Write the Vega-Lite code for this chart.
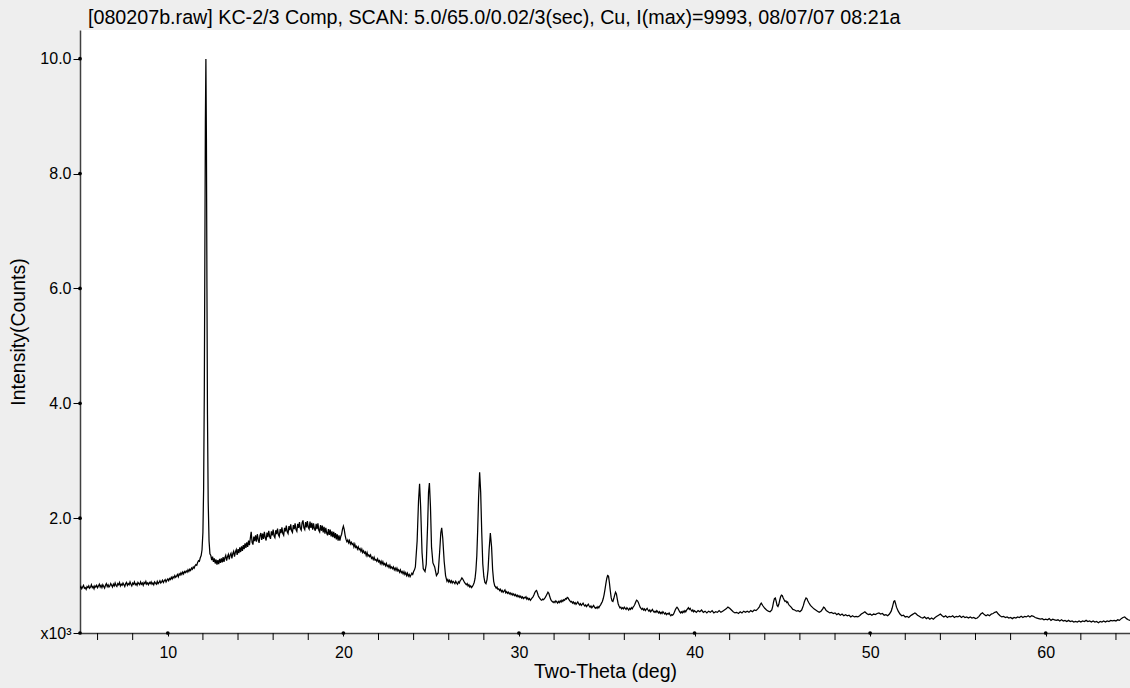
{
  "$schema": "https://vega.github.io/schema/vega-lite/v6.json",
  "width": 1050,
  "height": 603,
  "autosize": "none",
  "padding": {"left": 80, "top": 30, "right": 0, "bottom": 55},
  "background": "#eeeeee",
  "config": {
    "font": "Liberation Sans",
    "view": {"fill": "white", "stroke": null},
    "axis": {"domainColor": "#404040", "domainWidth": 1.5, "tickColor": "#000000", "tickWidth": 1, "labelColor": "#000000", "titleColor": "#000000", "labelFont": "Liberation Sans", "titleFont": "Liberation Sans", "labelFontSize": 16, "titleFontSize": 19.5, "titleFontWeight": "normal", "grid": false}
  },
  "title": {
    "text": "[080207b.raw] KC-2/3 Comp, SCAN: 5.0/65.0/0.02/3(sec), Cu, I(max)=9993, 08/07/07 08:21a",
    "anchor": "start", "frame": "group", "dx": 8, "offset": 2,
    "font": "Liberation Sans", "fontSize": 19.7, "fontWeight": "normal", "color": "#000000"
  },
  "datasets": {
    "scan": [
      {"t":5.00,"i":0.78},{"t":5.05,"i":0.81},{"t":5.10,"i":0.77},{"t":5.15,"i":0.80},{"t":5.20,"i":0.83},{"t":5.25,"i":0.78},{"t":5.30,"i":0.79},{"t":5.35,"i":0.76},{"t":5.40,"i":0.81},{"t":5.45,"i":0.79},
      {"t":5.50,"i":0.82},{"t":5.55,"i":0.78},{"t":5.60,"i":0.80},{"t":5.65,"i":0.84},{"t":5.70,"i":0.79},{"t":5.75,"i":0.81},{"t":5.80,"i":0.77},{"t":5.85,"i":0.82},{"t":5.90,"i":0.80},{"t":5.95,"i":0.83},
      {"t":6.00,"i":0.79},{"t":6.05,"i":0.82},{"t":6.10,"i":0.85},{"t":6.15,"i":0.80},{"t":6.20,"i":0.83},{"t":6.25,"i":0.79},{"t":6.30,"i":0.84},{"t":6.35,"i":0.81},{"t":6.40,"i":0.78},{"t":6.45,"i":0.83},
      {"t":6.50,"i":0.86},{"t":6.55,"i":0.81},{"t":6.60,"i":0.84},{"t":6.65,"i":0.80},{"t":6.70,"i":0.82},{"t":6.75,"i":0.86},{"t":6.80,"i":0.83},{"t":6.85,"i":0.80},{"t":6.90,"i":0.85},{"t":6.95,"i":0.82},
      {"t":7.00,"i":0.87},{"t":7.05,"i":0.83},{"t":7.10,"i":0.81},{"t":7.15,"i":0.86},{"t":7.20,"i":0.84},{"t":7.25,"i":0.88},{"t":7.30,"i":0.82},{"t":7.35,"i":0.85},{"t":7.40,"i":0.83},{"t":7.45,"i":0.87},
      {"t":7.50,"i":0.84},{"t":7.55,"i":0.81},{"t":7.60,"i":0.86},{"t":7.65,"i":0.88},{"t":7.70,"i":0.83},{"t":7.75,"i":0.86},{"t":7.80,"i":0.84},{"t":7.85,"i":0.89},{"t":7.90,"i":0.85},{"t":7.95,"i":0.82},
      {"t":8.00,"i":0.87},{"t":8.05,"i":0.85},{"t":8.10,"i":0.89},{"t":8.15,"i":0.84},{"t":8.20,"i":0.86},{"t":8.25,"i":0.83},{"t":8.30,"i":0.88},{"t":8.35,"i":0.86},{"t":8.40,"i":0.84},{"t":8.45,"i":0.89},
      {"t":8.50,"i":0.85},{"t":8.55,"i":0.87},{"t":8.60,"i":0.83},{"t":8.65,"i":0.88},{"t":8.70,"i":0.86},{"t":8.75,"i":0.90},{"t":8.80,"i":0.85},{"t":8.85,"i":0.87},{"t":8.90,"i":0.84},{"t":8.95,"i":0.88},
      {"t":9.00,"i":0.86},{"t":9.05,"i":0.89},{"t":9.10,"i":0.85},{"t":9.15,"i":0.87},{"t":9.20,"i":0.84},{"t":9.25,"i":0.89},{"t":9.30,"i":0.87},{"t":9.35,"i":0.85},{"t":9.40,"i":0.90},{"t":9.45,"i":0.86},
      {"t":9.50,"i":0.88},{"t":9.55,"i":0.91},{"t":9.60,"i":0.87},{"t":9.65,"i":0.89},{"t":9.70,"i":0.92},{"t":9.75,"i":0.88},{"t":9.80,"i":0.91},{"t":9.85,"i":0.93},{"t":9.90,"i":0.89},{"t":9.95,"i":0.92},
      {"t":10.00,"i":0.94},{"t":10.05,"i":0.91},{"t":10.10,"i":0.95},{"t":10.15,"i":0.93},{"t":10.20,"i":0.97},{"t":10.25,"i":0.94},{"t":10.30,"i":0.98},{"t":10.35,"i":0.96},{"t":10.40,"i":1.00},{"t":10.45,"i":0.97},
      {"t":10.50,"i":0.99},{"t":10.55,"i":1.02},{"t":10.60,"i":0.98},{"t":10.65,"i":1.03},{"t":10.70,"i":1.01},{"t":10.75,"i":1.05},{"t":10.80,"i":1.02},{"t":10.85,"i":1.06},{"t":10.90,"i":1.03},{"t":10.95,"i":1.07},
      {"t":11.00,"i":1.05},{"t":11.05,"i":1.08},{"t":11.10,"i":1.06},{"t":11.15,"i":1.10},{"t":11.20,"i":1.07},{"t":11.25,"i":1.11},{"t":11.30,"i":1.09},{"t":11.35,"i":1.13},{"t":11.40,"i":1.11},{"t":11.45,"i":1.15},
      {"t":11.50,"i":1.13},{"t":11.55,"i":1.17},{"t":11.60,"i":1.19},{"t":11.65,"i":1.18},{"t":11.70,"i":1.23},{"t":11.75,"i":1.26},{"t":11.80,"i":1.25},{"t":11.85,"i":1.31},{"t":11.90,"i":1.35},{"t":11.95,"i":1.45},
      {"t":12.00,"i":1.75},{"t":12.04,"i":2.5},{"t":12.08,"i":4.2},{"t":12.11,"i":6.5},{"t":12.14,"i":8.9},{"t":12.17,"i":9.993},{"t":12.20,"i":8.6},{"t":12.23,"i":6.0},{"t":12.26,"i":3.8},{"t":12.30,"i":2.3},{"t":12.35,"i":1.6},{"t":12.40,"i":1.38},
      {"t":12.45,"i":1.35},{"t":12.50,"i":1.27},{"t":12.55,"i":1.33},{"t":12.60,"i":1.24},{"t":12.65,"i":1.30},{"t":12.70,"i":1.21},{"t":12.75,"i":1.28},{"t":12.80,"i":1.19},{"t":12.85,"i":1.27},{"t":12.90,"i":1.20},
      {"t":12.95,"i":1.29},{"t":13.00,"i":1.22},{"t":13.05,"i":1.30},{"t":13.10,"i":1.23},{"t":13.15,"i":1.32},{"t":13.20,"i":1.24},{"t":13.25,"i":1.31},{"t":13.30,"i":1.35},{"t":13.35,"i":1.26},{"t":13.40,"i":1.33},
      {"t":13.45,"i":1.37},{"t":13.50,"i":1.28},{"t":13.55,"i":1.36},{"t":13.60,"i":1.39},{"t":13.65,"i":1.30},{"t":13.70,"i":1.38},{"t":13.75,"i":1.42},{"t":13.80,"i":1.33},{"t":13.85,"i":1.41},{"t":13.90,"i":1.45},
      {"t":13.95,"i":1.36},{"t":14.00,"i":1.46},{"t":14.05,"i":1.39},{"t":14.10,"i":1.49},{"t":14.15,"i":1.41},{"t":14.20,"i":1.51},{"t":14.25,"i":1.43},{"t":14.30,"i":1.53},{"t":14.35,"i":1.46},{"t":14.40,"i":1.56},
      {"t":14.45,"i":1.48},{"t":14.50,"i":1.58},{"t":14.55,"i":1.50},{"t":14.60,"i":1.61},{"t":14.65,"i":1.53},{"t":14.70,"i":1.65},{"t":14.75,"i":1.76},{"t":14.80,"i":1.58},{"t":14.85,"i":1.54},{"t":14.90,"i":1.68},
      {"t":14.95,"i":1.60},{"t":15.00,"i":1.70},{"t":15.05,"i":1.59},{"t":15.10,"i":1.72},{"t":15.15,"i":1.63},{"t":15.20,"i":1.57},{"t":15.25,"i":1.70},{"t":15.30,"i":1.74},{"t":15.35,"i":1.62},{"t":15.40,"i":1.73},
      {"t":15.45,"i":1.64},{"t":15.50,"i":1.76},{"t":15.55,"i":1.66},{"t":15.60,"i":1.61},{"t":15.65,"i":1.75},{"t":15.70,"i":1.67},{"t":15.75,"i":1.78},{"t":15.80,"i":1.68},{"t":15.85,"i":1.64},{"t":15.90,"i":1.77},
      {"t":15.95,"i":1.70},{"t":16.00,"i":1.80},{"t":16.05,"i":1.69},{"t":16.10,"i":1.66},{"t":16.15,"i":1.79},{"t":16.20,"i":1.72},{"t":16.25,"i":1.82},{"t":16.30,"i":1.71},{"t":16.35,"i":1.68},{"t":16.40,"i":1.81},
      {"t":16.45,"i":1.74},{"t":16.50,"i":1.84},{"t":16.55,"i":1.73},{"t":16.60,"i":1.70},{"t":16.65,"i":1.83},{"t":16.70,"i":1.77},{"t":16.75,"i":1.87},{"t":16.80,"i":1.76},{"t":16.85,"i":1.73},{"t":16.90,"i":1.86},
      {"t":16.95,"i":1.79},{"t":17.00,"i":1.89},{"t":17.05,"i":1.78},{"t":17.10,"i":1.75},{"t":17.15,"i":1.88},{"t":17.20,"i":1.81},{"t":17.25,"i":1.91},{"t":17.30,"i":1.80},{"t":17.35,"i":1.77},{"t":17.40,"i":1.90},
      {"t":17.45,"i":1.83},{"t":17.50,"i":1.93},{"t":17.55,"i":1.82},{"t":17.60,"i":1.79},{"t":17.65,"i":1.92},{"t":17.70,"i":1.96},{"t":17.75,"i":1.83},{"t":17.80,"i":1.80},{"t":17.85,"i":1.93},{"t":17.90,"i":1.84},
      {"t":17.95,"i":1.95},{"t":18.00,"i":1.84},{"t":18.05,"i":1.81},{"t":18.10,"i":1.94},{"t":18.15,"i":1.83},{"t":18.20,"i":1.92},{"t":18.25,"i":1.80},{"t":18.30,"i":1.91},{"t":18.35,"i":1.82},{"t":18.40,"i":1.78},
      {"t":18.45,"i":1.90},{"t":18.50,"i":1.81},{"t":18.55,"i":1.91},{"t":18.60,"i":1.79},{"t":18.65,"i":1.76},{"t":18.70,"i":1.88},{"t":18.75,"i":1.78},{"t":18.80,"i":1.87},{"t":18.85,"i":1.75},{"t":18.90,"i":1.85},
      {"t":18.95,"i":1.73},{"t":19.00,"i":1.83},{"t":19.05,"i":1.74},{"t":19.10,"i":1.70},{"t":19.15,"i":1.81},{"t":19.20,"i":1.71},{"t":19.25,"i":1.80},{"t":19.30,"i":1.68},{"t":19.35,"i":1.77},{"t":19.40,"i":1.67},
      {"t":19.45,"i":1.76},{"t":19.50,"i":1.65},{"t":19.55,"i":1.74},{"t":19.60,"i":1.63},{"t":19.65,"i":1.72},{"t":19.70,"i":1.61},{"t":19.75,"i":1.70},{"t":19.80,"i":1.61},{"t":19.85,"i":1.68},{"t":19.90,"i":1.72},
      {"t":19.95,"i":1.81},{"t":20.00,"i":1.86},{"t":20.05,"i":1.80},{"t":20.10,"i":1.70},{"t":20.15,"i":1.63},{"t":20.20,"i":1.59},{"t":20.25,"i":1.62},{"t":20.30,"i":1.57},{"t":20.35,"i":1.61},{"t":20.40,"i":1.55},
      {"t":20.45,"i":1.58},{"t":20.50,"i":1.54},{"t":20.55,"i":1.56},{"t":20.60,"i":1.50},{"t":20.65,"i":1.55},{"t":20.70,"i":1.49},{"t":20.75,"i":1.51},{"t":20.80,"i":1.46},{"t":20.85,"i":1.50},{"t":20.90,"i":1.45},
      {"t":20.95,"i":1.47},{"t":21.00,"i":1.42},{"t":21.05,"i":1.46},{"t":21.10,"i":1.40},{"t":21.15,"i":1.43},{"t":21.20,"i":1.39},{"t":21.25,"i":1.41},{"t":21.30,"i":1.35},{"t":21.35,"i":1.40},{"t":21.40,"i":1.34},
      {"t":21.45,"i":1.36},{"t":21.50,"i":1.33},{"t":21.55,"i":1.36},{"t":21.60,"i":1.30},{"t":21.65,"i":1.32},{"t":21.70,"i":1.28},{"t":21.75,"i":1.32},{"t":21.80,"i":1.27},{"t":21.85,"i":1.28},{"t":21.90,"i":1.25},
      {"t":21.95,"i":1.29},{"t":22.00,"i":1.24},{"t":22.05,"i":1.26},{"t":22.10,"i":1.21},{"t":22.15,"i":1.25},{"t":22.20,"i":1.20},{"t":22.25,"i":1.24},{"t":22.30,"i":1.19},{"t":22.35,"i":1.21},{"t":22.40,"i":1.17},
      {"t":22.45,"i":1.21},{"t":22.50,"i":1.16},{"t":22.55,"i":1.18},{"t":22.60,"i":1.14},{"t":22.65,"i":1.18},{"t":22.70,"i":1.13},{"t":22.75,"i":1.15},{"t":22.80,"i":1.12},{"t":22.85,"i":1.15},{"t":22.90,"i":1.10},
      {"t":22.95,"i":1.13},{"t":23.00,"i":1.09},{"t":23.05,"i":1.13},{"t":23.10,"i":1.08},{"t":23.15,"i":1.10},{"t":23.20,"i":1.06},{"t":23.25,"i":1.10},{"t":23.30,"i":1.05},{"t":23.35,"i":1.07},{"t":23.40,"i":1.03},
      {"t":23.45,"i":1.07},{"t":23.50,"i":1.02},{"t":23.55,"i":1.05},{"t":23.60,"i":1.00},{"t":23.65,"i":1.04},{"t":23.70,"i":0.99},{"t":23.75,"i":1.02},{"t":23.80,"i":0.98},{"t":23.85,"i":1.01},{"t":23.90,"i":1.04},
      {"t":23.95,"i":1.02},{"t":24.00,"i":1.07},{"t":24.05,"i":1.10},{"t":24.10,"i":1.15},
      {"t":24.2,"i":1.6},{"t":24.28,"i":2.3},{"t":24.34,"i":2.60},{"t":24.4,"i":2.2},{"t":24.48,"i":1.4},{"t":24.55,"i":1.12},{"t":24.65,"i":1.07},{"t":24.72,"i":1.2},{"t":24.8,"i":1.9},{"t":24.85,"i":2.45},{"t":24.9,"i":2.61},{"t":24.96,"i":2.2},{"t":25.02,"i":1.5},{"t":25.1,"i":1.22},{"t":25.2,"i":1.15},{"t":25.3,"i":1.0},{"t":25.4,"i":1.05},{"t":25.48,"i":1.4},{"t":25.55,"i":1.75},{"t":25.6,"i":1.83},{"t":25.66,"i":1.65},{"t":25.74,"i":1.25},{"t":25.82,"i":1.0},
      {"t":25.90,"i":0.90},{"t":25.95,"i":0.93},{"t":26.00,"i":0.89},{"t":26.05,"i":0.92},{"t":26.10,"i":0.88},{"t":26.15,"i":0.91},{"t":26.20,"i":0.87},{"t":26.25,"i":0.90},{"t":26.30,"i":0.88},{"t":26.35,"i":0.86},
      {"t":26.40,"i":0.90},{"t":26.45,"i":0.87},{"t":26.50,"i":0.85},{"t":26.55,"i":0.89},{"t":26.60,"i":0.87},{"t":26.65,"i":0.91},{"t":26.70,"i":0.93},{"t":26.75,"i":0.96},{"t":26.80,"i":0.94},{"t":26.85,"i":0.91},
      {"t":26.90,"i":0.88},{"t":26.95,"i":0.86},{"t":27.00,"i":0.84},{"t":27.05,"i":0.86},{"t":27.10,"i":0.82},{"t":27.15,"i":0.84},{"t":27.20,"i":0.80},{"t":27.25,"i":0.82},{"t":27.30,"i":0.79},{"t":27.35,"i":0.81},
      {"t":27.40,"i":0.84},{"t":27.45,"i":0.88},{"t":27.50,"i":0.95},{"t":27.55,"i":1.1},{"t":27.60,"i":1.35},{"t":27.65,"i":1.8},{"t":27.70,"i":2.35},{"t":27.76,"i":2.80},{"t":27.82,"i":2.45},{"t":27.88,"i":1.75},
      {"t":27.94,"i":1.2},{"t":28.00,"i":0.98},{"t":28.06,"i":0.88},{"t":28.12,"i":0.86},{"t":28.18,"i":0.93},{"t":28.24,"i":1.1},{"t":28.30,"i":1.45},{"t":28.37,"i":1.74},{"t":28.44,"i":1.5},{"t":28.50,"i":1.1},{"t":28.56,"i":0.9},{"t":28.62,"i":0.82},
      {"t":28.65,"i":0.81},{"t":28.70,"i":0.78},{"t":28.75,"i":0.80},{"t":28.80,"i":0.76},{"t":28.85,"i":0.77},{"t":28.90,"i":0.74},{"t":28.95,"i":0.76},{"t":29.00,"i":0.72},{"t":29.05,"i":0.74},{"t":29.10,"i":0.71},
      {"t":29.15,"i":0.73},{"t":29.20,"i":0.75},{"t":29.25,"i":0.70},{"t":29.30,"i":0.72},{"t":29.35,"i":0.69},{"t":29.40,"i":0.71},{"t":29.45,"i":0.68},{"t":29.50,"i":0.70},{"t":29.55,"i":0.67},{"t":29.60,"i":0.69},
      {"t":29.65,"i":0.66},{"t":29.70,"i":0.68},{"t":29.75,"i":0.65},{"t":29.80,"i":0.67},{"t":29.85,"i":0.64},{"t":29.90,"i":0.66},{"t":29.95,"i":0.63},{"t":30.00,"i":0.65},{"t":30.05,"i":0.62},{"t":30.10,"i":0.64},
      {"t":30.15,"i":0.61},{"t":30.20,"i":0.63},{"t":30.25,"i":0.60},{"t":30.30,"i":0.62},{"t":30.35,"i":0.61},{"t":30.40,"i":0.63},{"t":30.45,"i":0.59},{"t":30.50,"i":0.61},{"t":30.55,"i":0.58},{"t":30.60,"i":0.60},
      {"t":30.65,"i":0.57},{"t":30.70,"i":0.59},{"t":30.75,"i":0.61},{"t":30.80,"i":0.63},{"t":30.85,"i":0.66},{"t":30.90,"i":0.70},{"t":30.95,"i":0.73},{"t":31.00,"i":0.74},{"t":31.05,"i":0.70},{"t":31.10,"i":0.65},
      {"t":31.15,"i":0.62},{"t":31.20,"i":0.60},{"t":31.25,"i":0.58},{"t":31.30,"i":0.57},{"t":31.35,"i":0.59},{"t":31.40,"i":0.58},{"t":31.45,"i":0.60},{"t":31.50,"i":0.62},{"t":31.55,"i":0.65},{"t":31.60,"i":0.68},
      {"t":31.65,"i":0.71},{"t":31.70,"i":0.69},{"t":31.75,"i":0.64},{"t":31.80,"i":0.59},{"t":31.85,"i":0.56},{"t":31.90,"i":0.55},{"t":31.95,"i":0.53},{"t":32.00,"i":0.55},{"t":32.05,"i":0.53},{"t":32.10,"i":0.56},
      {"t":32.15,"i":0.54},{"t":32.20,"i":0.52},{"t":32.25,"i":0.55},{"t":32.30,"i":0.53},{"t":32.35,"i":0.56},{"t":32.40,"i":0.54},{"t":32.45,"i":0.57},{"t":32.50,"i":0.55},{"t":32.55,"i":0.58},{"t":32.60,"i":0.57},
      {"t":32.65,"i":0.60},{"t":32.70,"i":0.59},{"t":32.75,"i":0.62},{"t":32.80,"i":0.61},{"t":32.85,"i":0.58},{"t":32.90,"i":0.56},{"t":32.95,"i":0.54},{"t":33.00,"i":0.55},{"t":33.05,"i":0.52},{"t":33.10,"i":0.54},
      {"t":33.15,"i":0.51},{"t":33.20,"i":0.53},{"t":33.25,"i":0.50},{"t":33.30,"i":0.52},{"t":33.35,"i":0.54},{"t":33.40,"i":0.51},{"t":33.45,"i":0.49},{"t":33.50,"i":0.51},{"t":33.55,"i":0.48},{"t":33.60,"i":0.50},
      {"t":33.65,"i":0.52},{"t":33.70,"i":0.49},{"t":33.75,"i":0.47},{"t":33.80,"i":0.49},{"t":33.85,"i":0.46},{"t":33.90,"i":0.48},{"t":33.95,"i":0.50},{"t":34.00,"i":0.47},{"t":34.05,"i":0.45},{"t":34.10,"i":0.47},
      {"t":34.15,"i":0.44},{"t":34.20,"i":0.46},{"t":34.25,"i":0.48},{"t":34.30,"i":0.45},{"t":34.35,"i":0.43},{"t":34.40,"i":0.45},{"t":34.45,"i":0.43},{"t":34.50,"i":0.46},{"t":34.55,"i":0.44},{"t":34.60,"i":0.47},
      {"t":34.65,"i":0.49},{"t":34.70,"i":0.52},{"t":34.75,"i":0.55},{"t":34.80,"i":0.60},{"t":34.85,"i":0.67},{"t":34.90,"i":0.76},{"t":34.95,"i":0.86},{"t":35.00,"i":0.95},{"t":35.05,"i":1.00},{"t":35.10,"i":0.99},
      {"t":35.15,"i":0.88},{"t":35.20,"i":0.74},{"t":35.25,"i":0.62},{"t":35.30,"i":0.56},{"t":35.35,"i":0.55},{"t":35.40,"i":0.60},{"t":35.45,"i":0.66},{"t":35.50,"i":0.71},{"t":35.55,"i":0.68},{"t":35.60,"i":0.59},
      {"t":35.65,"i":0.51},{"t":35.70,"i":0.47},{"t":35.75,"i":0.44},{"t":35.80,"i":0.45},{"t":35.85,"i":0.42},{"t":35.90,"i":0.44},{"t":35.95,"i":0.42},{"t":36.00,"i":0.45},{"t":36.05,"i":0.43},{"t":36.10,"i":0.41},
      {"t":36.15,"i":0.44},{"t":36.20,"i":0.42},{"t":36.25,"i":0.40},{"t":36.30,"i":0.43},{"t":36.35,"i":0.41},{"t":36.40,"i":0.44},{"t":36.45,"i":0.42},{"t":36.50,"i":0.45},{"t":36.55,"i":0.47},{"t":36.60,"i":0.50},
      {"t":36.65,"i":0.54},{"t":36.70,"i":0.57},{"t":36.75,"i":0.56},{"t":36.80,"i":0.53},{"t":36.85,"i":0.49},{"t":36.90,"i":0.45},{"t":36.95,"i":0.43},{"t":37.00,"i":0.41},{"t":37.05,"i":0.43},{"t":37.10,"i":0.40},
      {"t":37.15,"i":0.42},{"t":37.20,"i":0.39},{"t":37.25,"i":0.41},{"t":37.30,"i":0.43},{"t":37.35,"i":0.40},{"t":37.40,"i":0.38},{"t":37.45,"i":0.40},{"t":37.50,"i":0.37},{"t":37.55,"i":0.39},{"t":37.60,"i":0.41},
      {"t":37.65,"i":0.38},{"t":37.70,"i":0.36},{"t":37.75,"i":0.38},{"t":37.80,"i":0.36},{"t":37.85,"i":0.39},{"t":37.90,"i":0.37},{"t":37.95,"i":0.35},{"t":38.00,"i":0.37},{"t":38.05,"i":0.34},{"t":38.10,"i":0.36},
      {"t":38.15,"i":0.34},{"t":38.20,"i":0.37},{"t":38.25,"i":0.35},{"t":38.30,"i":0.33},{"t":38.35,"i":0.35},{"t":38.40,"i":0.32},{"t":38.45,"i":0.34},{"t":38.50,"i":0.33},{"t":38.55,"i":0.35},{"t":38.60,"i":0.32},
      {"t":38.65,"i":0.30},{"t":38.70,"i":0.32},{"t":38.75,"i":0.31},{"t":38.80,"i":0.33},{"t":38.85,"i":0.36},{"t":38.90,"i":0.40},{"t":38.95,"i":0.43},{"t":39.00,"i":0.45},{"t":39.05,"i":0.43},{"t":39.10,"i":0.40},
      {"t":39.15,"i":0.37},{"t":39.20,"i":0.35},{"t":39.25,"i":0.37},{"t":39.30,"i":0.35},{"t":39.35,"i":0.38},{"t":39.40,"i":0.36},{"t":39.45,"i":0.39},{"t":39.50,"i":0.37},{"t":39.55,"i":0.40},{"t":39.60,"i":0.42},
      {"t":39.65,"i":0.44},{"t":39.70,"i":0.41},{"t":39.75,"i":0.43},{"t":39.80,"i":0.40},{"t":39.85,"i":0.38},{"t":39.90,"i":0.40},{"t":39.95,"i":0.37},{"t":40.00,"i":0.39},
      {"t":40.1,"i":0.36},{"t":40.2,"i":0.39},{"t":40.3,"i":0.37},{"t":40.4,"i":0.40},{"t":40.5,"i":0.36},{"t":40.6,"i":0.38},{"t":40.7,"i":0.35},{"t":40.8,"i":0.38},{"t":40.9,"i":0.36},{"t":41.0,"i":0.39},
      {"t":41.1,"i":0.35},{"t":41.2,"i":0.37},{"t":41.3,"i":0.36},{"t":41.4,"i":0.39},{"t":41.5,"i":0.36},{"t":41.6,"i":0.38},{"t":41.7,"i":0.40},{"t":41.8,"i":0.42},{"t":41.9,"i":0.45},{"t":42.0,"i":0.43},
      {"t":42.1,"i":0.40},{"t":42.2,"i":0.37},{"t":42.3,"i":0.35},{"t":42.4,"i":0.36},{"t":42.5,"i":0.34},{"t":42.6,"i":0.37},{"t":42.7,"i":0.35},{"t":42.8,"i":0.38},{"t":42.9,"i":0.36},{"t":43.0,"i":0.38},
      {"t":43.1,"i":0.36},{"t":43.2,"i":0.39},{"t":43.3,"i":0.37},{"t":43.4,"i":0.40},{"t":43.5,"i":0.39},{"t":43.6,"i":0.42},{"t":43.7,"i":0.46},{"t":43.75,"i":0.50},{"t":43.8,"i":0.52},{"t":43.9,"i":0.47},
      {"t":44.0,"i":0.43},{"t":44.1,"i":0.40},{"t":44.2,"i":0.38},{"t":44.3,"i":0.37},{"t":44.4,"i":0.40},{"t":44.45,"i":0.46},{"t":44.5,"i":0.54},{"t":44.55,"i":0.60},{"t":44.6,"i":0.61},{"t":44.65,"i":0.55},
      {"t":44.7,"i":0.48},{"t":44.75,"i":0.46},{"t":44.8,"i":0.50},{"t":44.85,"i":0.57},{"t":44.9,"i":0.63},{"t":44.95,"i":0.66},{"t":45.0,"i":0.65},{"t":45.05,"i":0.61},{"t":45.1,"i":0.58},{"t":45.15,"i":0.55},
      {"t":45.2,"i":0.56},{"t":45.25,"i":0.53},{"t":45.3,"i":0.54},{"t":45.35,"i":0.50},{"t":45.4,"i":0.48},{"t":45.5,"i":0.45},{"t":45.6,"i":0.41},{"t":45.7,"i":0.40},{"t":45.8,"i":0.38},{"t":45.9,"i":0.39},
      {"t":46.0,"i":0.37},{"t":46.1,"i":0.40},{"t":46.15,"i":0.44},{"t":46.2,"i":0.48},{"t":46.25,"i":0.54},{"t":46.3,"i":0.58},{"t":46.35,"i":0.61},{"t":46.4,"i":0.60},{"t":46.45,"i":0.56},{"t":46.5,"i":0.53},
      {"t":46.6,"i":0.48},{"t":46.7,"i":0.45},{"t":46.8,"i":0.42},{"t":46.9,"i":0.40},{"t":47.0,"i":0.38},{"t":47.1,"i":0.36},{"t":47.2,"i":0.38},{"t":47.3,"i":0.42},{"t":47.35,"i":0.45},{"t":47.4,"i":0.44},
      {"t":47.5,"i":0.39},{"t":47.6,"i":0.37},{"t":47.7,"i":0.35},{"t":47.8,"i":0.36},{"t":47.9,"i":0.34},{"t":48.0,"i":0.35},{"t":48.1,"i":0.32},{"t":48.2,"i":0.34},{"t":48.3,"i":0.31},{"t":48.4,"i":0.33},
      {"t":48.5,"i":0.30},{"t":48.6,"i":0.32},{"t":48.7,"i":0.30},{"t":48.8,"i":0.31},{"t":48.9,"i":0.28},{"t":49.0,"i":0.30},{"t":49.1,"i":0.28},{"t":49.2,"i":0.29},{"t":49.3,"i":0.28},{"t":49.4,"i":0.30},
      {"t":49.5,"i":0.33},{"t":49.6,"i":0.35},{"t":49.7,"i":0.37},{"t":49.8,"i":0.34},{"t":49.9,"i":0.32},{"t":50.0,"i":0.33},{"t":50.1,"i":0.31},{"t":50.2,"i":0.33},{"t":50.3,"i":0.32},{"t":50.4,"i":0.34},
      {"t":50.5,"i":0.35},{"t":50.6,"i":0.33},{"t":50.7,"i":0.34},{"t":50.8,"i":0.31},{"t":50.9,"i":0.32},{"t":51.0,"i":0.30},{"t":51.1,"i":0.33},{"t":51.2,"i":0.38},{"t":51.25,"i":0.43},{"t":51.3,"i":0.49},
      {"t":51.35,"i":0.55},{"t":51.4,"i":0.56},{"t":51.45,"i":0.51},{"t":51.5,"i":0.45},{"t":51.6,"i":0.38},{"t":51.7,"i":0.33},{"t":51.8,"i":0.30},{"t":51.9,"i":0.31},{"t":52.0,"i":0.28},{"t":52.1,"i":0.29},
      {"t":52.2,"i":0.27},{"t":52.3,"i":0.30},{"t":52.4,"i":0.32},{"t":52.5,"i":0.34},{"t":52.55,"i":0.35},{"t":52.6,"i":0.34},{"t":52.7,"i":0.31},{"t":52.8,"i":0.29},{"t":52.9,"i":0.27},{"t":53.0,"i":0.26},
      {"t":53.1,"i":0.28},{"t":53.2,"i":0.25},{"t":53.3,"i":0.27},{"t":53.4,"i":0.24},{"t":53.5,"i":0.26},{"t":53.6,"i":0.24},{"t":53.7,"i":0.27},{"t":53.8,"i":0.29},{"t":53.9,"i":0.31},{"t":54.0,"i":0.33},
      {"t":54.1,"i":0.30},{"t":54.2,"i":0.28},{"t":54.3,"i":0.30},{"t":54.4,"i":0.27},{"t":54.5,"i":0.29},{"t":54.6,"i":0.28},{"t":54.7,"i":0.30},{"t":54.8,"i":0.27},{"t":54.9,"i":0.29},{"t":55.0,"i":0.28},
      {"t":55.1,"i":0.30},{"t":55.2,"i":0.27},{"t":55.3,"i":0.29},{"t":55.4,"i":0.27},{"t":55.5,"i":0.28},{"t":55.6,"i":0.26},{"t":55.7,"i":0.28},{"t":55.8,"i":0.26},{"t":55.9,"i":0.27},{"t":56.0,"i":0.25},
      {"t":56.1,"i":0.26},{"t":56.2,"i":0.29},{"t":56.3,"i":0.33},{"t":56.4,"i":0.35},{"t":56.5,"i":0.32},{"t":56.6,"i":0.30},{"t":56.7,"i":0.32},{"t":56.8,"i":0.30},{"t":56.9,"i":0.33},{"t":57.0,"i":0.34},
      {"t":57.1,"i":0.36},{"t":57.2,"i":0.37},{"t":57.3,"i":0.33},{"t":57.4,"i":0.30},{"t":57.5,"i":0.28},{"t":57.6,"i":0.29},{"t":57.7,"i":0.27},{"t":57.8,"i":0.28},{"t":57.9,"i":0.26},{"t":58.0,"i":0.27},
      {"t":58.1,"i":0.25},{"t":58.2,"i":0.27},{"t":58.3,"i":0.26},{"t":58.4,"i":0.28},{"t":58.5,"i":0.27},{"t":58.6,"i":0.29},{"t":58.7,"i":0.27},{"t":58.8,"i":0.29},{"t":58.9,"i":0.28},{"t":59.0,"i":0.30},
      {"t":59.1,"i":0.28},{"t":59.2,"i":0.30},{"t":59.3,"i":0.29},{"t":59.4,"i":0.27},{"t":59.5,"i":0.26},{"t":59.6,"i":0.25},{"t":59.7,"i":0.24},{"t":59.8,"i":0.25},{"t":59.9,"i":0.23},{"t":60.0,"i":0.24},
      {"t":60.1,"i":0.23},{"t":60.2,"i":0.25},{"t":60.3,"i":0.22},{"t":60.4,"i":0.24},{"t":60.5,"i":0.23},{"t":60.6,"i":0.22},{"t":60.7,"i":0.23},{"t":60.8,"i":0.21},{"t":60.9,"i":0.23},{"t":61.0,"i":0.21},
      {"t":61.1,"i":0.22},{"t":61.2,"i":0.20},{"t":61.3,"i":0.22},{"t":61.4,"i":0.20},{"t":61.5,"i":0.21},{"t":61.6,"i":0.19},{"t":61.7,"i":0.20},{"t":61.8,"i":0.19},{"t":61.9,"i":0.21},{"t":62.0,"i":0.19},
      {"t":62.1,"i":0.21},{"t":62.2,"i":0.20},{"t":62.3,"i":0.22},{"t":62.4,"i":0.20},{"t":62.5,"i":0.21},{"t":62.6,"i":0.19},{"t":62.7,"i":0.21},{"t":62.8,"i":0.19},{"t":62.9,"i":0.20},{"t":63.0,"i":0.18},
      {"t":63.1,"i":0.20},{"t":63.2,"i":0.19},{"t":63.3,"i":0.21},{"t":63.4,"i":0.19},{"t":63.5,"i":0.21},{"t":63.6,"i":0.20},{"t":63.7,"i":0.22},{"t":63.8,"i":0.21},{"t":63.9,"i":0.22},{"t":64.0,"i":0.21},
      {"t":64.1,"i":0.23},{"t":64.2,"i":0.22},{"t":64.3,"i":0.25},{"t":64.4,"i":0.27},{"t":64.5,"i":0.28},{"t":64.6,"i":0.25},{"t":64.7,"i":0.23},{"t":64.8,"i":0.22},{"t":64.9,"i":0.22},{"t":65.0,"i":0.21}
    ],
    "minorTicks": [
      {"t":6},{"t":8},{"t":12},{"t":14},{"t":16},{"t":18},{"t":22},{"t":24},{"t":26},{"t":28},{"t":32},{"t":34},{"t":36},{"t":38},
      {"t":42},{"t":44},{"t":46},{"t":48},{"t":52},{"t":54},{"t":56},{"t":58},{"t":62},{"t":64}
    ],
    "majorTicks": [
      {"t":5,"i":0},{"t":10,"i":0},{"t":20,"i":0},{"t":30,"i":0},{"t":40,"i":0},{"t":50,"i":0},{"t":60,"i":0},
      {"t":5,"i":2},{"t":5,"i":4},{"t":5,"i":6},{"t":5,"i":8},{"t":5,"i":10}
    ]
  },
  "layer": [
    {
      "data": {"name": "scan"},
      "mark": {"type": "line", "color": "#000000", "strokeWidth": 1.25, "clip": true},
      "encoding": {
        "x": {
          "field": "t", "type": "quantitative",
          "scale": {"domain": [5, 64.8], "nice": false, "zero": false},
          "axis": {
            "title": "Two-Theta (deg)",
            "values": [10, 20, 30, 40, 50, 60],
            "format": "d",
            "tickSize": 3, "labelPadding": 8, "titlePadding": 2, "labelOverlap": false
          }
        },
        "y": {
          "field": "i", "type": "quantitative",
          "scale": {"domain": [0, 10.5], "nice": false},
          "axis": {
            "title": "Intensity(Counts)",
            "values": [0, 2, 4, 6, 8, 10],
            "labelExpr": "datum.value === 0 ? 'x10³' : format(datum.value, '.1f')",
            "tickSize": 7, "labelPadding": 2, "titlePadding": 11, "labelOverlap": false
          }
        }
      }
    },
    {
      "data": {"name": "minorTicks"},
      "mark": {"type": "rule", "color": "#000000", "strokeWidth": 1, "clip": false},
      "encoding": {
        "x": {"field": "t", "type": "quantitative"},
        "y": {"datum": 0, "type": "quantitative"},
        "y2": {"datum": -0.122}
      }
    },
    {
      "mark": {"type": "rule", "color": "#333333", "strokeWidth": 1.5},
      "encoding": {"y": {"datum": 10.5, "type": "quantitative"}}
    },
    {
      "data": {"name": "majorTicks"},
      "mark": {"type": "point", "filled": true, "color": "#000000", "size": 14, "opacity": 1, "clip": false},
      "encoding": {
        "x": {"field": "t", "type": "quantitative"},
        "y": {"field": "i", "type": "quantitative"}
      }
    }
  ]
}
